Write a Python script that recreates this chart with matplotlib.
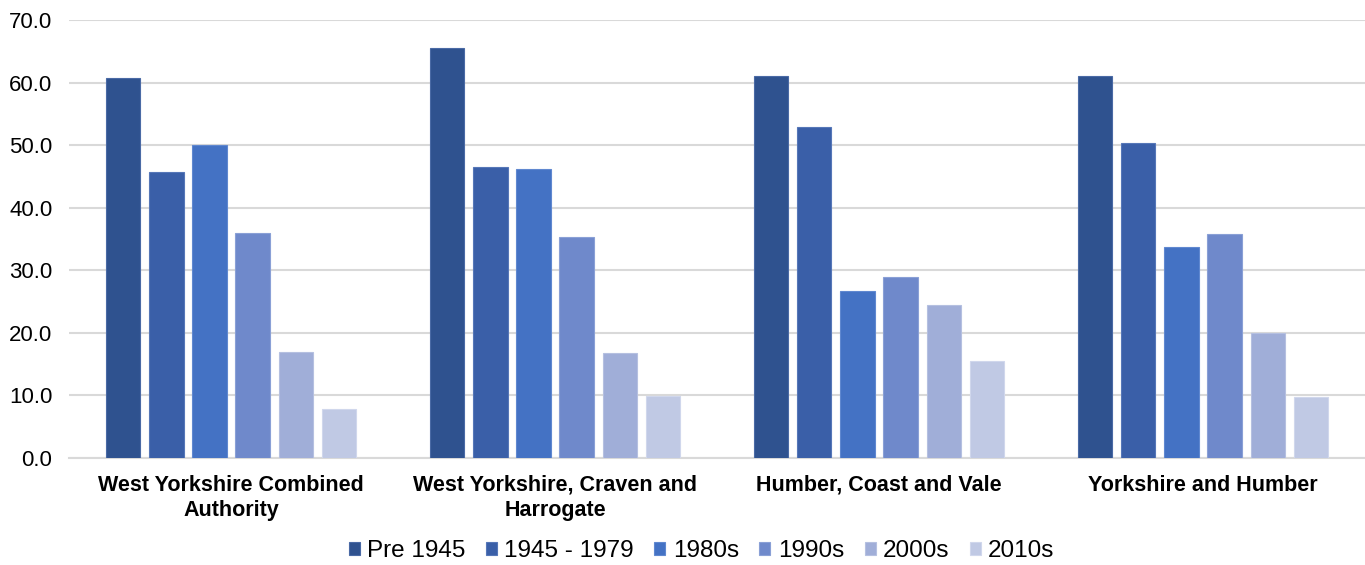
import matplotlib
matplotlib.use("Agg")
import matplotlib.pyplot as plt
import numpy as np

plt.rcParams['font.family'] = ['Liberation Sans', 'DejaVu Sans']

categories = ["West Yorkshire Combined\nAuthority", "West Yorkshire, Craven and\nHarrogate",
              "Humber, Coast and Vale", "Yorkshire and Humber"]
series_names = ["Pre 1945", "1945 - 1979", "1980s", "1990s", "2000s", "2010s"]
pre1945 = [60.7, 65.6, 61.0, 61.0]
y1945_1979 = [45.7, 46.5, 52.9, 50.4]
y1980s = [50.0, 46.2, 26.7, 33.8]
y1990s = [36.0, 35.3, 29.0, 35.8]
y2000s = [16.9, 16.7, 24.5, 19.9]
y2010s = [7.8, 9.9, 15.5, 9.8]
series = [pre1945, y1945_1979, y1980s, y1990s, y2000s, y2010s]
colors = ["#2F528F", "#3A5FA8", "#4472C4", "#6F89CB", "#A0AED8", "#C0C9E4"]
edges = ["#4A6AA5", "#5677B8", "#6088D0", "#8AA0D6", "#B5C0E0", "#D0D7EC"]

fig = plt.figure(figsize=(13.65, 5.65), dpi=100)
ax = fig.add_axes([0.0506, 0.1894, 0.9494, 0.7752])

x = np.arange(len(categories))
step = 0.133
width = 0.1056
for i, (name, vals) in enumerate(zip(series_names, series)):
    ax.bar(x + (i - 2.5) * step, vals, width, color=colors[i], edgecolor=edges[i],
           linewidth=0.8, label=name, zorder=3)

ax.set_xlim(-0.5, 3.5)
ax.set_ylim(0, 70)
ax.set_yticks(np.arange(0, 71, 10))
ax.set_yticklabels([f"{v:.1f}" for v in np.arange(0, 71, 10)], fontsize=16, color="#000000")
ax.set_xticks(x)
ax.set_xticklabels(categories, fontsize=15.5, fontweight='bold', linespacing=1.3)
ax.tick_params(axis='both', length=0)
ax.tick_params(axis='x', pad=12)
ax.tick_params(axis='y', pad=12)
ax.grid(axis='y', color="#D9D9D9", linewidth=1.5, zorder=0)
for s in ["top", "right", "left"]:
    ax.spines[s].set_visible(False)
ax.spines["bottom"].set_color("#D9D9D9")
ax.spines["bottom"].set_linewidth(1.5)

leg = fig.legend(loc="center", bbox_to_anchor=(0.514, 0.024), ncol=6, frameon=False,
                 fontsize=17.5, handlelength=0.45, handleheight=0.45, handletextpad=0.3,
                 columnspacing=0.85)

fig.savefig("out.png", dpi=100)
